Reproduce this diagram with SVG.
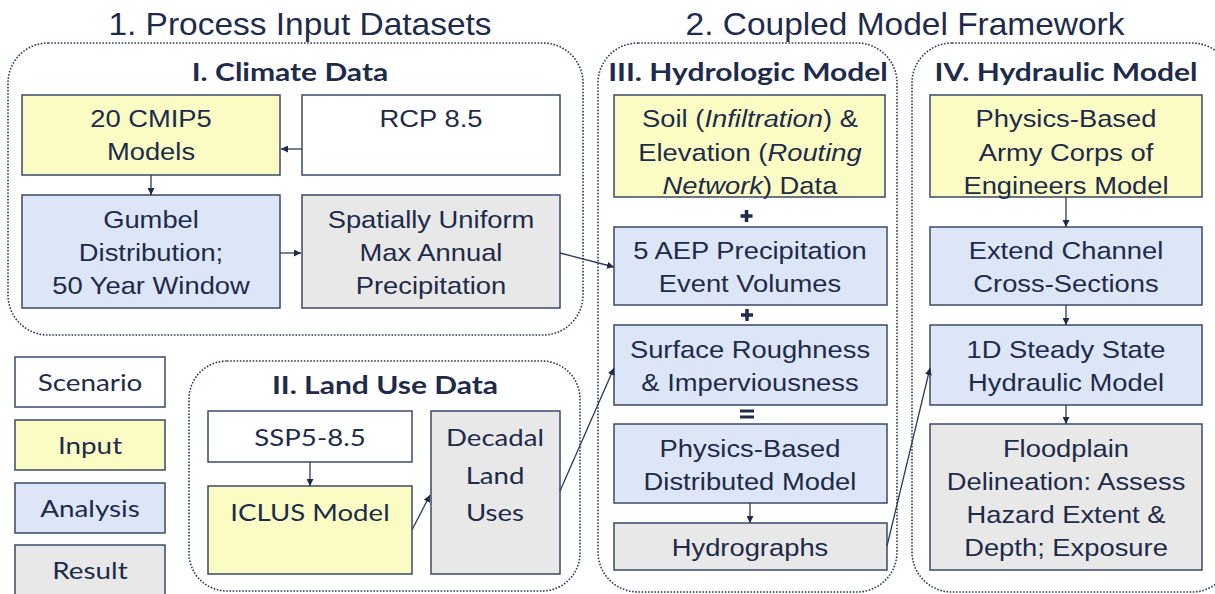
<svg xmlns="http://www.w3.org/2000/svg" width="1215" height="594" viewBox="0 0 1215 594">
<defs>
<style>
.cont{fill:none;stroke:#2B3A5C;stroke-width:1.6;stroke-dasharray:1.6 1.6}
.box{stroke:#3A4A68;stroke-width:1.5}
.sc{fill:#FFFFFF}.in{fill:#FAFCC4}.an{fill:#DCE6F6}.re{fill:#E8E8E8}
.t{font-family:"Liberation Sans",Arial,sans-serif;font-size:24px;fill:#1E2B4A;text-anchor:middle}
.c{font-family:Lato,"Open Sans",sans-serif;font-size:24px;fill:#1E2B4A;text-anchor:middle}
.h{font-family:Lato,"Open Sans",sans-serif;font-size:25px;font-weight:bold;fill:#1E2B4A;text-anchor:middle}
.big{font-family:"Liberation Sans",Arial,sans-serif;font-size:31px;fill:#1E2B4A;text-anchor:middle}
.ln{fill:none;stroke:#2B3A5C;stroke-width:1.3}
</style>
<marker id="ah" viewBox="0 0 10 10" refX="10" refY="5" markerWidth="7" markerHeight="7" markerUnits="userSpaceOnUse" orient="auto"><path d="M0,0 L10,5 L0,10 Z" fill="#1E2B4A"/></marker>
</defs>
<rect width="1215" height="594" fill="#FFFFFF"/>
<text class="big" transform="translate(300,35) scale(1.08,1)">1. Process Input Datasets</text>
<text class="big" transform="translate(905,35) scale(1.08,1)">2. Coupled Model Framework</text>

<g id="climate-data">
<rect class="cont" x="8" y="43" width="575" height="292" rx="40"/>
<text class="h" transform="translate(290,81) scale(1.2,1)">I. Climate Data</text>
</g>
<g id="land-use-data">
<rect class="cont" x="189" y="361" width="391" height="230" rx="38"/>
<text class="h" transform="translate(385,394) scale(1.2,1)">II. Land Use Data</text>
</g>
<g id="hydrologic-model">
<rect class="cont" x="598" y="43" width="299" height="549" rx="40"/>
<text class="h" transform="translate(748,81) scale(1.2,1)">III. Hydrologic Model</text>
</g>
<g id="hydraulic-model">
<rect class="cont" x="912" y="43" width="320" height="549" rx="40"/>
<text class="h" transform="translate(1066,81) scale(1.2,1)">IV. Hydraulic Model</text>
</g>

<g id="legend-scenario"><rect class="box sc" x="15" y="357" width="150" height="50"/><text class="c" transform="translate(90,391) scale(1.16,1)">Scenario</text></g>
<g id="legend-input"><rect class="box in" x="15" y="420" width="150" height="50"/><text class="c" transform="translate(90,454) scale(1.16,1)">Input</text></g>
<g id="legend-analysis"><rect class="box an" x="15" y="483" width="150" height="50"/><text class="c" transform="translate(90,517) scale(1.16,1)">Analysis</text></g>
<g id="legend-result"><rect class="box re" x="15" y="545" width="150" height="52"/><text class="c" transform="translate(90,579) scale(1.16,1)">Result</text></g>

<g id="cmip5"><rect class="box in" x="22" y="95" width="258" height="80"/><text class="t" transform="translate(151,127) scale(1.14,1)">20 CMIP5</text><text class="t" transform="translate(151,160) scale(1.14,1)">Models</text></g>
<g id="rcp85"><rect class="box sc" x="302" y="95" width="258" height="80"/><text class="t" transform="translate(431,127) scale(1.14,1)">RCP 8.5</text></g>
<g id="gumbel"><rect class="box an" x="22" y="195" width="258" height="113"/><text class="t" transform="translate(151,228) scale(1.14,1)">Gumbel</text><text class="t" transform="translate(151,261) scale(1.14,1)">Distribution;</text><text class="t" transform="translate(151,294) scale(1.14,1)">50 Year Window</text></g>
<g id="max-precip"><rect class="box re" x="302" y="195" width="258" height="113"/><text class="t" transform="translate(431,228) scale(1.14,1)">Spatially Uniform</text><text class="t" transform="translate(431,261) scale(1.14,1)">Max Annual</text><text class="t" transform="translate(431,294) scale(1.14,1)">Precipitation</text></g>

<g id="ssp585"><rect class="box sc" x="208" y="411" width="204" height="51"/><text class="c" transform="translate(310,446) scale(1.15,1)">SSP5-8.5</text></g>
<g id="iclus"><rect class="box in" x="208" y="486" width="204" height="88"/><text class="c" transform="translate(310,521) scale(1.15,1)">ICLUS Model</text></g>
<g id="decadal"><rect class="box re" x="431" y="411" width="129" height="163"/><text class="c" transform="translate(495,446) scale(1.15,1)">Decadal</text><text class="c" transform="translate(495,484) scale(1.15,1)">Land</text><text class="c" transform="translate(495,521) scale(1.15,1)">Uses</text></g>

<g id="soil-elev"><rect class="box in" x="614" y="95" width="271" height="102"/><text class="t" transform="translate(750,127) scale(1.14,1)">Soil (<tspan font-style="italic">Infiltration</tspan>) &amp;</text><text class="t" transform="translate(750,161) scale(1.14,1)">Elevation (<tspan font-style="italic">Routing</tspan></text><text class="t" transform="translate(750,194) scale(1.14,1)"><tspan font-style="italic">Network</tspan>) Data</text></g>
<g id="aep"><rect class="box an" x="614" y="227" width="273" height="78"/><text class="t" transform="translate(750,259) scale(1.14,1)">5 AEP Precipitation</text><text class="t" transform="translate(750,292) scale(1.14,1)">Event Volumes</text></g>
<g id="roughness"><rect class="box an" x="614" y="325" width="273" height="80"/><text class="t" transform="translate(750,358) scale(1.14,1)">Surface Roughness</text><text class="t" transform="translate(750,391) scale(1.14,1)">&amp; Imperviousness</text></g>
<g id="distributed"><rect class="box an" x="614" y="424" width="273" height="79"/><text class="t" transform="translate(750,457) scale(1.14,1)">Physics-Based</text><text class="t" transform="translate(750,490) scale(1.14,1)">Distributed Model</text></g>
<g id="hydrographs"><rect class="box re" x="614" y="523" width="273" height="47"/><text class="t" transform="translate(750,556) scale(1.14,1)">Hydrographs</text></g>
<g id="operators">
<path d="M740.5,216 h12 M746.5,210 v12" stroke="#1E2B4A" stroke-width="3.5" fill="none"/>
<path d="M741,315 h12 M747,309 v12" stroke="#1E2B4A" stroke-width="3.5" fill="none"/>
<path d="M740,411 h14 M740,417 h14" stroke="#1E2B4A" stroke-width="3" fill="none"/>
</g>

<g id="army-corps"><rect class="box in" x="930" y="95" width="272" height="102"/><text class="t" transform="translate(1066,127) scale(1.14,1)">Physics-Based</text><text class="t" transform="translate(1066,161) scale(1.14,1)">Army Corps of</text><text class="t" transform="translate(1066,194) scale(1.14,1)">Engineers Model</text></g>
<g id="channel"><rect class="box an" x="930" y="227" width="272" height="78"/><text class="t" transform="translate(1066,259) scale(1.14,1)">Extend Channel</text><text class="t" transform="translate(1066,292) scale(1.14,1)">Cross-Sections</text></g>
<g id="steady-state"><rect class="box an" x="930" y="325" width="272" height="80"/><text class="t" transform="translate(1066,358) scale(1.14,1)">1D Steady State</text><text class="t" transform="translate(1066,391) scale(1.14,1)">Hydraulic Model</text></g>
<g id="floodplain"><rect class="box re" x="930" y="424" width="272" height="146"/><text class="t" transform="translate(1066,457) scale(1.14,1)">Floodplain</text><text class="t" transform="translate(1066,490) scale(1.14,1)">Delineation: Assess</text><text class="t" transform="translate(1066,523) scale(1.14,1)">Hazard Extent &amp;</text><text class="t" transform="translate(1066,556) scale(1.14,1)">Depth; Exposure</text></g>

<g id="connectors">
<line class="ln" x1="302" y1="149" x2="281" y2="149" marker-end="url(#ah)"/>
<line class="ln" x1="151" y1="175" x2="151" y2="195" marker-end="url(#ah)"/>
<line class="ln" x1="280" y1="253" x2="301" y2="253" marker-end="url(#ah)"/>
<line class="ln" x1="560" y1="253" x2="614" y2="267" marker-end="url(#ah)"/>
<line class="ln" x1="310" y1="462" x2="310" y2="486" marker-end="url(#ah)"/>
<line class="ln" x1="412" y1="530" x2="430" y2="495" marker-end="url(#ah)"/>
<line class="ln" x1="560" y1="491" x2="614" y2="368" marker-end="url(#ah)"/>
<line class="ln" x1="750" y1="503" x2="750" y2="523" marker-end="url(#ah)"/>
<line class="ln" x1="887" y1="546" x2="930" y2="368" marker-end="url(#ah)"/>
<line class="ln" x1="1066" y1="197" x2="1066" y2="227" marker-end="url(#ah)"/>
<line class="ln" x1="1066" y1="305" x2="1066" y2="325" marker-end="url(#ah)"/>
<line class="ln" x1="1066" y1="405" x2="1066" y2="424" marker-end="url(#ah)"/>
</g>
</svg>
